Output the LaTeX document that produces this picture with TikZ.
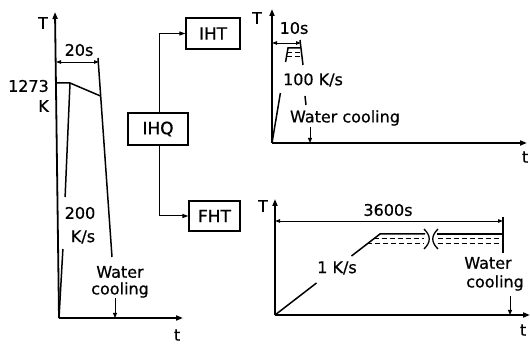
\documentclass[tikz,border=0pt]{standalone}
\usepackage{fontspec}
\setmainfont{DejaVu Sans}
\newfontfamily\medfont[FakeBold=0.6]{DejaVu Sans}
\usetikzlibrary{arrows.meta}
\begin{document}
\begin{tikzpicture}[x=1pt,y=-1pt,
  lbl/.style={font=\medfont\fontsize{16}{18}\selectfont, inner sep=0pt},
  box/.style={draw, line width=1.2pt, font=\medfont\fontsize{17}{19}\selectfont, inner sep=0pt},
  axis/.style={line width=1.8pt, -{Triangle[length=7pt,width=5pt]}},
  curve/.style={line width=1.5pt},
  dim/.style={line width=0.9pt, {Triangle[length=5pt,width=3.5pt]}-{Triangle[length=5pt,width=3.5pt]}},
  wc/.style={line width=1pt, -{Triangle[length=5pt,width=4pt]}},
  conn/.style={line width=1pt, -{Triangle[length=6pt,width=4pt]}},
  dsh/.style={line width=1pt, dash pattern=on 5pt off 3pt}]
\useasboundingbox (0,0) rectangle (530,344);

% ---------- left graph (IHQ) ----------
\coordinate (oL) at (59,318);
\draw[axis] (oL) -- (55,12);
\draw[axis] (oL) -- (183,318);
\node[lbl] (TL) at (43,23) {T};
\node[lbl] (tL) at (177,335) {t};
\node[lbl] (d20) at (79,50) {20s};
\draw[dim] (56,62) -- (99,62);
\node[lbl, anchor=east] (k1273) at (49,86) {1273};
\node[lbl, anchor=east] (kK) at (49,106) {K};
% plateau and hold
\draw[curve] (57,83) -- (70,83) -- (100.5,96);
% heating line with gap for label
\draw[curve] (oL) -- (62.9,249);
\draw[curve] (65.1,197) -- (70,83);
% cooling line
\draw[curve] (98,58) -- (112,257);
\node[lbl] (r200) at (80,213) {200};
\node[lbl] (rKs) at (83,237) {K/s};
\node[lbl] (wL1) at (120,272) {Water};
\node[lbl] (wL2) at (120,290) {cooling};
\coordinate (aL) at (115,298);
\coordinate (aLe) at (115,318);
\draw[wc] (aL) -- (aLe);

% ---------- middle boxes ----------
\node[box, minimum width=60pt, minimum height=32pt] (IHQ) at (158,129) {IHQ};
\node[box, minimum width=54pt, minimum height=31pt] (IHT) at (213,33.5) {IHT};
\node[box, minimum width=51pt, minimum height=30pt] (FHT) at (214.5,216) {FHT};
\draw[conn] (IHQ.north -| 159,0) |- (IHT.west);
\draw[conn] (IHQ.south -| 159,0) |- (FHT.west);

% ---------- top right graph (IHT) ----------
\coordinate (oA) at (272,143);
\draw[axis] (oA) -- (272,9);
\draw[axis] (oA) -- (527,143);
\node[lbl] (TA) at (257,18) {T};
\node[lbl] (tA) at (525,157) {t};
\node[lbl] (d10) at (294,28) {10s};
\draw[dim] (272,43) -- (301,43);
\draw[curve] (oA) -- (280.4,93);
\draw[curve] (285.6,62) -- (288,48) -- (300.7,48);
\draw[dsh] (287.2,53) -- (299.6,53);
\draw[dsh] (286.5,57) -- (300.1,57);
\draw[curve] (300,40) -- (303,65);
\draw[curve] (305,96) -- (306,105);
\node[lbl] (r100) at (313,80) {100 K/s};
\node[lbl] (wA) at (345,118) {Water cooling};
\coordinate (aA) at (310,127);
\coordinate (aAe) at (310,143);
\draw[wc] (aA) -- (aAe);

% ---------- bottom right graph (FHT) ----------
\coordinate (oB) at (275,315);
\draw[axis] (oB) -- (275,199);
\draw[axis] (oB) -- (530,315);
\node[lbl] (TB) at (263,206) {T};
\node[lbl] (tB) at (523,330) {t};
\node[lbl] (d3600) at (388,210) {3600s};
\draw[dim] (275,221) -- (503,221);
\draw[curve] (503,217) -- (503,253);
\draw[curve] (oB) -- (316.5,283);
\draw[curve] (351.5,256) -- (380,234) -- (425,234);
\draw[curve] (437,234) -- (503,234);
\draw[dsh] (373.5,239) -- (424,239);
\draw[dsh] (367,244) -- (424,244);
\draw[dsh] (438,239) -- (503,239);
\draw[dsh] (438,244) -- (503,244);
\draw[line width=1.3pt] (424,229) .. controls (431,236) and (431,242) .. (424,249);
\draw[line width=1.3pt] (438,229) .. controls (431,236) and (431,242) .. (438,249);
\node[lbl] (r1) at (337,268) {1 K/s};
\node[lbl] (wB1) at (488,263) {Water};
\node[lbl] (wB2) at (495,283) {cooling};
\coordinate (aB) at (510,296);
\coordinate (aBe) at (510,315);
\draw[wc] (aB) -- (aBe);
\end{tikzpicture}
\end{document}
